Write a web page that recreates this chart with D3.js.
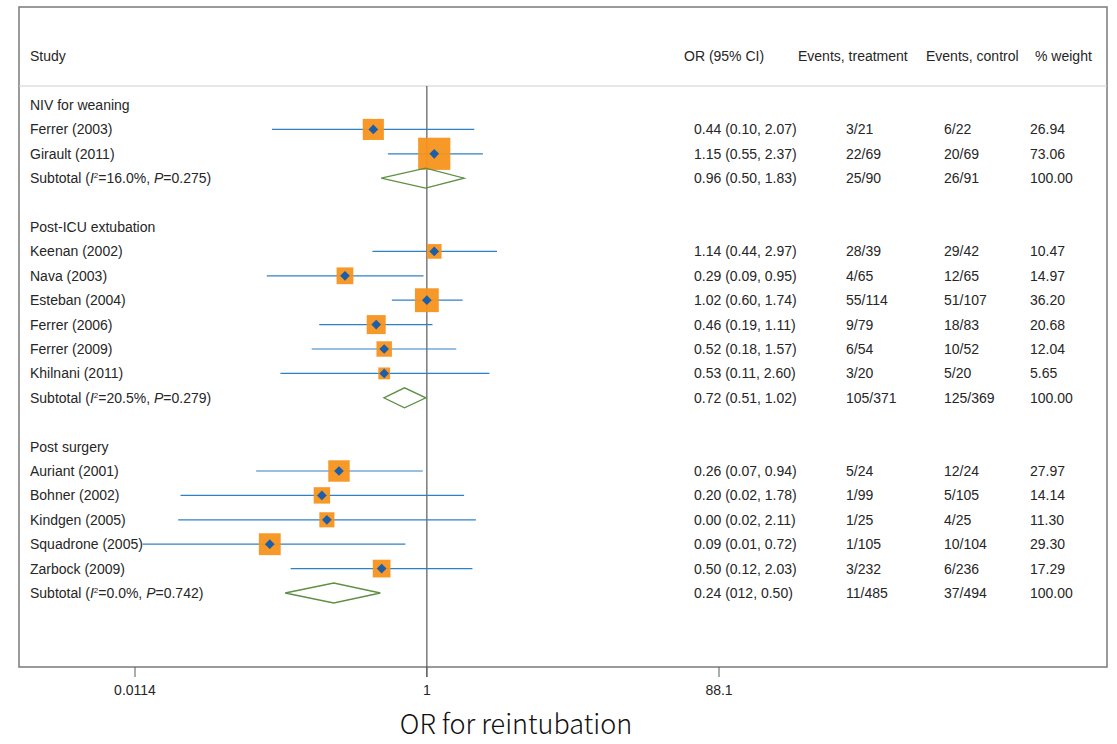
<!DOCTYPE html>
<html>
<head>
<meta charset="utf-8">
<script src="https://cdn.jsdelivr.net/npm/d3@7"></script>
<style>
  body { margin: 0; background: #fff; }
  text { font-family: "Liberation Sans", Arial, sans-serif; }
</style>
</head>
<body>
<div id="chart"></div>
<script>
const WIDTH = 1117;
const HEIGHT = 744;

const groupNames = ["NIV for weaning", "Post-ICU extubation", "Post surgery"];

// study rows
const studyGroup = [0, 0, 1, 1, 1, 1, 1, 1, 2, 2, 2, 2, 2];
const studyNames = ["Ferrer (2003)", "Girault (2011)", "Keenan (2002)", "Nava (2003)", "Esteban (2004)",
  "Ferrer (2006)", "Ferrer (2009)", "Khilnani (2011)", "Auriant (2001)", "Bohner (2002)",
  "Kindgen (2005)", "Squadrone (2005)", "Zarbock (2009)"];
const orLabels = ["0.44 (0.10, 2.07)", "1.15 (0.55, 2.37)", "1.14 (0.44, 2.97)", "0.29 (0.09, 0.95)",
  "1.02 (0.60, 1.74)", "0.46 (0.19, 1.11)", "0.52 (0.18, 1.57)", "0.53 (0.11, 2.60)",
  "0.26 (0.07, 0.94)", "0.20 (0.02, 1.78)", "0.00 (0.02, 2.11)", "0.09 (0.01, 0.72)", "0.50 (0.12, 2.03)"];
const eventsTreat = ["3/21", "22/69", "28/39", "4/65", "55/114", "9/79", "6/54", "3/20",
  "5/24", "1/99", "1/25", "1/105", "3/232"];
const eventsCtrl = ["6/22", "20/69", "29/42", "12/65", "51/107", "18/83", "10/52", "5/20",
  "12/24", "5/105", "4/25", "10/104", "6/236"];
const weights = [26.94, 73.06, 10.47, 14.97, 36.20, 20.68, 12.04, 5.65, 27.97, 14.14, 11.30, 29.30, 17.29];
// plotted estimates (as drawn)
const orPoint = [0.44, 1.12, 1.12, 0.285, 1.0, 0.46, 0.52, 0.52, 0.26, 0.20, 0.216, 0.09, 0.50];
const ciLow = [0.093, 0.55, 0.434, 0.086, 0.585, 0.192, 0.171, 0.106, 0.073, 0.0229, 0.0221, 0.0128, 0.124];
const ciHigh = [2.07, 2.36, 2.93, 0.95, 1.73, 1.09, 1.57, 2.61, 0.94, 1.77, 2.12, 0.72, 2.01];

// subtotals
const subI2 = ["16.0%", "20.5%", "0.0%"];
const subP = ["0.275", "0.279", "0.742"];
const subOrLabels = ["0.96 (0.50, 1.83)", "0.72 (0.51, 1.02)", "0.24 (012, 0.50)"];
const subTreat = ["25/90", "105/371", "11/485"];
const subCtrl = ["26/91", "125/369", "37/494"];
const subWeight = ["100.00", "100.00", "100.00"];
const subPoint = [0.98, 0.71, 0.24];
const subLow = [0.497, 0.517, 0.114];
const subHigh = [1.77, 0.985, 0.49];

const axisTicks = [0.0114, 1, 88.1];
const axisTickLabels = ["0.0114", "1", "88.1"];

// build rows: header, studies, subtotal, blank
const rows = [];
groupNames.forEach((g, gi) => {
  rows.push({ type: "group", gi });
  studyNames.forEach((s, i) => { if (studyGroup[i] === gi) rows.push({ type: "study", i }); });
  rows.push({ type: "sub", gi });
  if (gi < groupNames.length - 1) rows.push({ type: "blank" });
});

const svg = d3.select("#chart").append("svg")
  .attr("width", WIDTH)
  .attr("height", HEIGHT);

const frame = { left: 19, top: 7, right: 1107, bottom: 667 };
const headerY = 56;
const sepY = 86;
const FS = "14px";

const x = d3.scaleLog().domain([0.0114, 88.1]).range([135, 719]);
const y = d3.scalePoint().domain(d3.range(rows.length)).range([105, 593]);
const boxSize = d3.scaleSqrt().domain([0, 100]).range([4, 37]);

const cols = { or: 694, treat: 846, ctrl: 944, wt: 1030 };
const TEXT = "#262626";

// frame
svg.append("rect")
  .attr("x", frame.left).attr("y", frame.top)
  .attr("width", frame.right - frame.left).attr("height", frame.bottom - frame.top)
  .attr("fill", "none").attr("stroke", "#7a7a7a").attr("stroke-width", 1.5);

svg.append("line")
  .attr("x1", frame.left).attr("x2", frame.right)
  .attr("y1", sepY).attr("y2", sepY)
  .attr("stroke", "#cfcfcf").attr("stroke-width", 1.2);

// header
const headers = [["Study", 30], ["OR (95% CI)", 684], ["Events, treatment", 798], ["Events, control", 926], ["% weight", 1035]];
svg.selectAll(".hdr").data(headers).enter().append("text")
  .attr("x", d => d[1]).attr("y", headerY).attr("dy", "0.35em")
  .style("font-size", FS).style("fill", TEXT)
  .text(d => d[0]);

// null line
svg.append("line")
  .attr("x1", x(1)).attr("x2", x(1))
  .attr("y1", sepY).attr("y2", frame.bottom + 10)
  .attr("stroke", "#5a5a5a").attr("stroke-width", 1.2);

// axis ticks
svg.selectAll(".tick").data(axisTicks).enter().append("line")
  .attr("x1", d => x(d)).attr("x2", d => x(d))
  .attr("y1", frame.bottom).attr("y2", frame.bottom + 10)
  .attr("stroke", "#5a5a5a").attr("stroke-width", 1);

svg.selectAll(".ticklab").data(axisTicks).enter().append("text")
  .attr("x", d => x(d)).attr("y", 690).attr("dy", "0.35em")
  .attr("text-anchor", "middle")
  .style("font-size", "14px").style("fill", TEXT)
  .text((d, i) => axisTickLabels[i]);

svg.append("text")
  .attr("x", 516).attr("y", 725).attr("dy", "0.35em")
  .attr("text-anchor", "middle")
  .style("font-family", "'Noto Sans CJK KR', 'Noto Sans', sans-serif")
  .style("font-size", "27px").style("font-weight", 300).style("fill", "#111")
  .text("OR for reintubation");

// rows
rows.forEach((r, ri) => {
  const yy = y(ri);
  if (r.type === "group") {
    svg.append("text").attr("x", 30).attr("y", yy).attr("dy", "0.35em")
      .style("font-size", FS).style("fill", TEXT).text(groupNames[r.gi]);
  }
  if (r.type === "study") {
    const i = r.i;
    const g = svg.append("g");
    g.append("line")
      .attr("x1", x(ciLow[i])).attr("x2", x(ciHigh[i]))
      .attr("y1", yy).attr("y2", yy)
      .attr("stroke", "#2f80c4").attr("stroke-width", 1.2);
    const s = boxSize(weights[i]);
    g.append("rect")
      .attr("x", x(orPoint[i]) - s / 2).attr("y", yy - s / 2)
      .attr("width", s).attr("height", s)
      .attr("fill", "#f7941d").attr("opacity", 0.95);
    g.append("path")
      .attr("d", d3.symbol(d3.symbolDiamond2, 60)())
      .attr("transform", `translate(${x(orPoint[i])},${yy})`)
      .attr("fill", "#1c5fa8");

    const texts = [[studyNames[i], 30], [orLabels[i], cols.or], [eventsTreat[i], cols.treat],
      [eventsCtrl[i], cols.ctrl], [weights[i].toFixed(2), cols.wt]];
    texts.forEach(t => {
      svg.append("text").attr("x", t[1]).attr("y", yy).attr("dy", "0.35em")
        .style("font-size", FS).style("fill", TEXT).text(t[0]);
    });
  }
  if (r.type === "sub") {
    const gi = r.gi;
    const h = 10;
    const pts = [[x(subLow[gi]), yy], [x(subPoint[gi]), yy - h], [x(subHigh[gi]), yy], [x(subPoint[gi]), yy + h]];
    svg.append("path")
      .attr("d", d3.line()(pts) + "Z")
      .attr("fill", "none").attr("stroke", "#5e8f43").attr("stroke-width", 1.3);

    const lab = svg.append("text").attr("x", 30).attr("y", yy + 5)
      .style("font-size", FS).style("fill", TEXT);
    lab.append("tspan").text("Subtotal (");
    lab.append("tspan").style("font-style", "italic").text("I");
    lab.append("tspan").style("font-size", "8px").attr("dy", -5).text("2");
    lab.append("tspan").attr("dy", 5).text("=" + subI2[gi] + ", ");
    lab.append("tspan").style("font-style", "italic").text("P");
    lab.append("tspan").text("=" + subP[gi] + ")");

    const texts = [[subOrLabels[gi], cols.or], [subTreat[gi], cols.treat], [subCtrl[gi], cols.ctrl], [subWeight[gi], cols.wt]];
    texts.forEach(t => {
      svg.append("text").attr("x", t[1]).attr("y", yy).attr("dy", "0.35em")
        .style("font-size", FS).style("fill", TEXT).text(t[0]);
    });
  }
});
</script>
</body>
</html>
